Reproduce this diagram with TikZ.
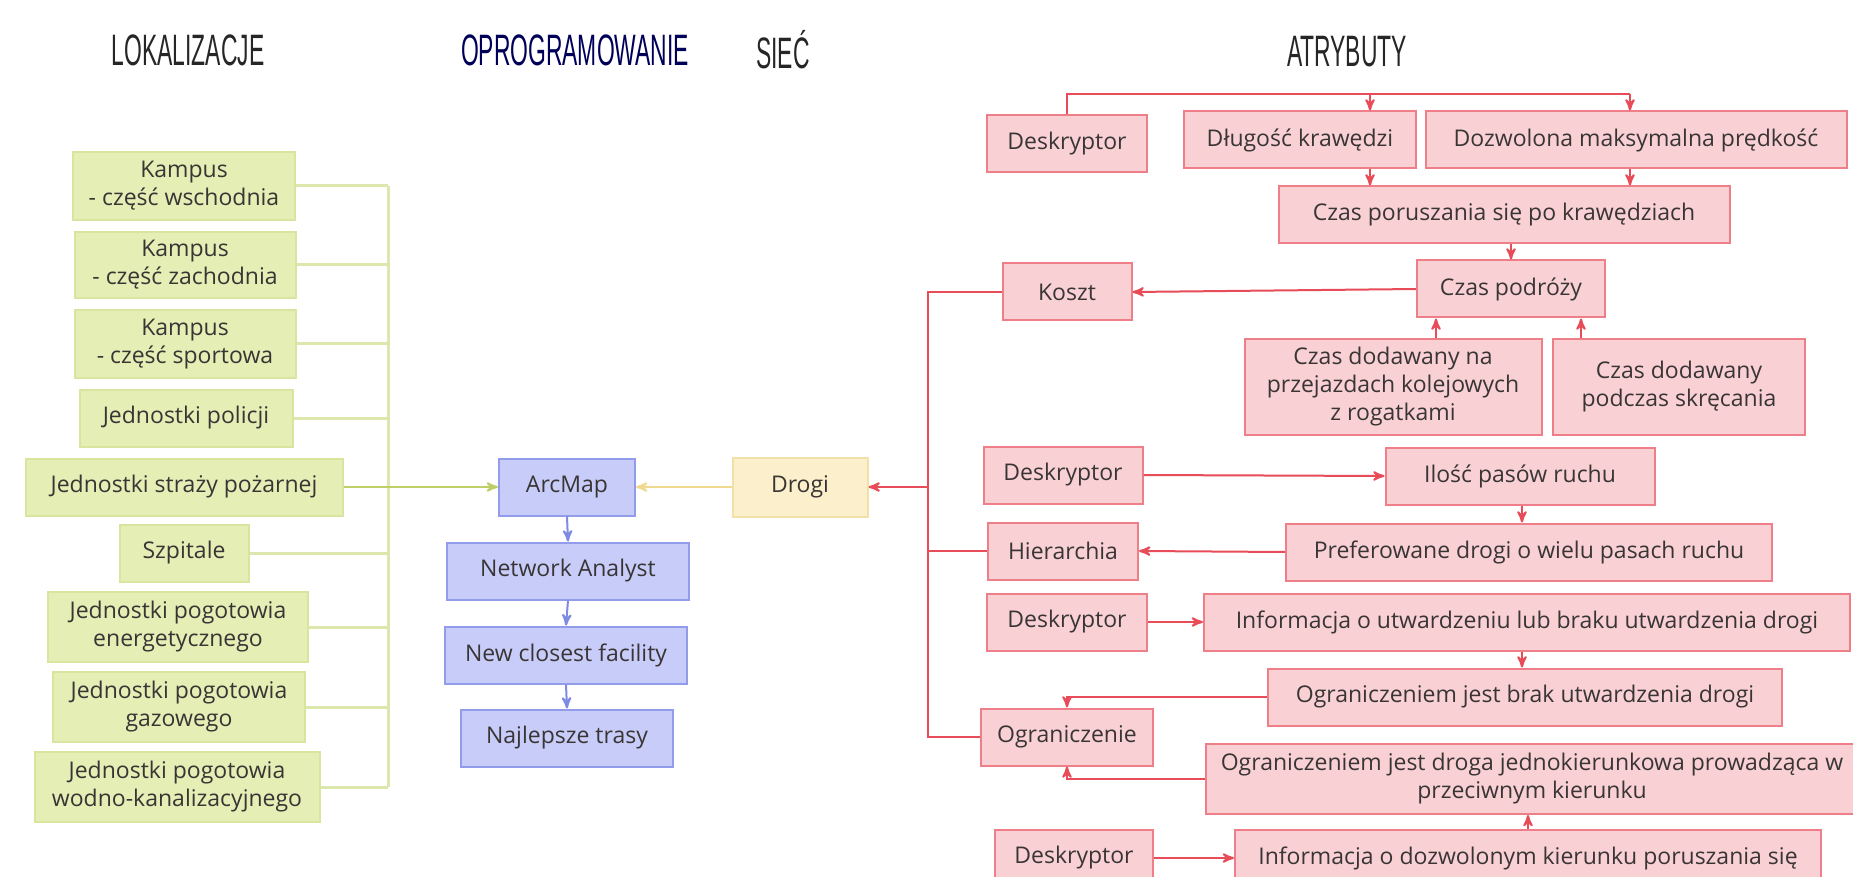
\documentclass[tikz,border=0pt]{standalone}
\usepackage{fontspec}
\setmainfont{Open Sans}
\newfontfamily\headfont{Liberation Sans}[FakeStretch=0.52]
\usetikzlibrary{arrows}

\definecolor{txt}{HTML}{3A3535}
\definecolor{lokfill}{HTML}{E5EEB5}
\definecolor{lokedge}{HTML}{D8E59E}
\definecolor{lokline}{HTML}{DCE7AE}
\definecolor{lokarrow}{HTML}{BDD068}
\definecolor{progfill}{HTML}{C7CCF8}
\definecolor{progedge}{HTML}{929CEA}
\definecolor{progline}{HTML}{7F8AE4}
\definecolor{siecfill}{HTML}{FBF0CB}
\definecolor{siecedge}{HTML}{F1E0A8}
\definecolor{siecline}{HTML}{F0D88E}
\definecolor{atrfill}{HTML}{F9D1D4}
\definecolor{atredge}{HTML}{EE7F89}
\definecolor{atrline}{HTML}{E84C58}

\begin{document}
\begin{tikzpicture}[x=0.5pt,y=-0.5pt,>=stealth',
    box/.style={draw,line width=1pt,inner sep=0pt,align=center,text=txt,
      font=\fontsize{11.5}{14}\selectfont},
    lok/.style={box,fill=lokfill,draw=lokedge},
    prog/.style={box,fill=progfill,draw=progedge},
    siec/.style={box,fill=siecfill,draw=siecedge},
    atr/.style={box,fill=atrfill,draw=atredge},
    one/.style={minimum width=#1,minimum height=28.5pt},
    two/.style={minimum width=#1,minimum height=35pt},
    head/.style={font=\headfont\fontsize{22}{22}\selectfont},
    lokwire/.style={draw=lokline,line width=1.5pt},
    progwire/.style={->,draw=progline,line width=1pt},
    atrwire/.style={draw=atrline,line width=1pt}]

  \fill[white] (0,0) rectangle (1853,877);
  \useasboundingbox (0,0) rectangle (1853,877);

  % headings
  \node[head,text=black!85] (hlok) at (188,50) {LOKALIZACJE};
  \node[head,text=blue!35!black] (hprog) at (575,50) {OPROGRAMOWANIE};
  \node[head,text=black!85] (hsiec) at (783,50) {SIEĆ};
  \node[head,text=black!85] (hatr) at (1347,52) {ATRYBUTY};

  % lokalizacje
  \node[lok,two=111pt,minimum height=34pt] (kw) at (184,186) {Kampus\\- część wschodnia};
  \node[lok,two=110.5pt,minimum height=33pt] (kz) at (185,265) {Kampus\\- część zachodnia};
  \node[lok,two=110.5pt,minimum height=34pt] (ks) at (185,344) {Kampus\\- część sportowa};
  \node[lok,one=106.5pt] (pol) at (186,418) {Jednostki policji};
  \node[lok,one=158.5pt] (psp) at (184,487) {Jednostki straży pożarnej};
  \node[lok,one=64.5pt] (szp) at (184,553) {Szpitale};
  \node[lok,two=130pt] (energ) at (178,627) {Jednostki pogotowia\\energetycznego};
  \node[lok,two=126pt] (gaz) at (179,707) {Jednostki pogotowia\\gazowego};
  \node[lok,two=142.5pt] (wod) at (177,787) {Jednostki pogotowia\\wodno-kanalizacyjnego};

  % oprogramowanie
  \node[prog,one=68pt] (arc) at (567,487) {ArcMap};
  \node[prog,one=121pt] (na) at (568,571) {Network Analyst};
  \node[prog,one=121pt] (ncf) at (566,655) {New closest facility};
  \node[prog,one=106pt] (trasy) at (567,738) {Najlepsze trasy};

  % siec
  \node[siec,one=67.5pt,minimum height=29.5pt] (drogi) at (800,487) {Drogi};

  % atrybuty
  \node[atr,one=80pt] (d1) at (1067,144) {Deskryptor};
  \node[atr,one=116pt] (dk) at (1300,140) {Długość krawędzi};
  \node[atr,one=210.5pt] (dmp) at (1636,140) {Dozwolona maksymalna prędkość};
  \node[atr,one=225.5pt] (cpk) at (1504,215) {Czas poruszania się po krawędziach};
  \node[atr,one=94pt] (cp) at (1511,289) {Czas podróży};
  \node[atr,one=64.5pt] (koszt) at (1067,292) {Koszt};
  \node[atr,one=148.5pt,minimum height=48pt] (cdp) at (1393,387) {Czas dodawany na\\przejazdach kolejowych\\z rogatkami};
  \node[atr,one=126pt,minimum height=48pt] (cds) at (1679,387) {Czas dodawany\\podczas skręcania};
  \node[atr,one=79.5pt] (d2) at (1063,475) {Deskryptor};
  \node[atr,one=134.5pt] (ilosc) at (1520,476) {Ilość pasów ruchu};
  \node[atr,one=75pt] (hier) at (1063,551) {Hierarchia};
  \node[atr,one=243pt] (pref) at (1529,552) {Preferowane drogi o wielu pasach ruchu};
  \node[atr,one=80pt] (d3) at (1067,622) {Deskryptor};
  \node[atr,one=323pt] (infu) at (1527,622) {Informacja o utwardzeniu lub braku utwardzenia drogi};
  \node[atr,one=257pt] (obrak) at (1525,697) {Ograniczeniem jest brak utwardzenia drogi};
  \node[atr,one=86pt] (ogr) at (1067,737) {Ograniczenie};
  \node[atr,two=326pt] (ojedn) at (1532,779) {Ograniczeniem jest droga jednokierunkowa prowadząca w\\przeciwnym kierunku};
  \node[atr,one=79pt] (d4) at (1074,858) {Deskryptor};
  \node[atr,one=293pt] (infd) at (1528,858) {Informacja o dozwolonym kierunku poruszania się};

  % helper points for the wires
  \coordinate (gbus) at (388,0);
  \coordinate (rbus) at (928,0);
  \coordinate (t1) at (1370,94);
  \coordinate (t2) at (1630,94);
  \coordinate (c1) at (1436,0);
  \coordinate (c2) at (1581,0);
  \coordinate (c3) at (1522,0);

  % lokalizacje -> ArcMap
  \foreach \n in {kw,kz,ks,pol,szp,energ,gaz,wod}
    \draw[lokwire] (\n.east) -- (\n.east -| gbus);
  \draw[lokwire] (kw.east -| gbus) -- (wod.east -| gbus);
  \draw[->,draw=lokarrow,line width=1pt] (psp.east) -- (arc.west);

  % ArcMap chain
  \draw[progwire] (arc.south) -- (na.north);
  \draw[progwire] (na.south) -- (ncf.north);
  \draw[progwire] (ncf.south) -- (trasy.north);

  % Drogi -> ArcMap
  \draw[->,draw=siecline,line width=1pt] (drogi.west) -- (arc.east);

  % atrybuty
  \draw[atrwire] (d1.north) |- (t2);
  \draw[atrwire,->] (t1) -- (t1 |- dk.north);
  \draw[atrwire,->] (t2) -- (t2 |- dmp.north);
  \draw[atrwire,->] (t1 |- dk.south) -- (t1 |- cpk.north);
  \draw[atrwire,->] (t2 |- dmp.south) -- (t2 |- cpk.north);
  \draw[atrwire,->] (cp.north |- cpk.south) -- (cp.north);
  \draw[atrwire,->] (cp.west) -- (koszt.east);
  \draw[atrwire,->] (c1 |- cdp.north) -- (c1 |- cp.south);
  \draw[atrwire,->] (c2 |- cds.north) -- (c2 |- cp.south);
  \draw[atrwire,->] (d2.east) -- (ilosc.west);
  \draw[atrwire,->] (c3 |- ilosc.south) -- (c3 |- pref.north);
  \draw[atrwire,->] (pref.west) -- (hier.east);
  \draw[atrwire,->] (d3.east) -- (infu.west);
  \draw[atrwire,->] (c3 |- infu.south) -- (c3 |- obrak.north);
  \draw[atrwire,->] (obrak.west) -| (ogr.north);
  \draw[atrwire,->] (ojedn.west) -| (ogr.south);
  \draw[atrwire,->] (infd.north) -- (infd.north |- ojedn.south);
  \draw[atrwire,->] (d4.east) -- (infd.west);

  % atrybuty -> Drogi
  \draw[atrwire] (koszt.west) -- (koszt.west -| rbus) -- (ogr.west -| rbus) -- (ogr.west);
  \draw[atrwire] (hier.west) -- (hier.west -| rbus);
  \draw[atrwire,->] (drogi.east -| rbus) -- (drogi.east);
\end{tikzpicture}
\end{document}
